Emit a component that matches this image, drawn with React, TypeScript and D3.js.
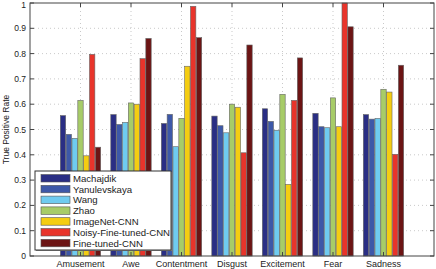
import React from 'react';
import {scaleBand,scaleLinear,range} from 'd3';

const categories=["Amusement","Awe","Contentment","Disgust","Excitement","Fear","Sadness"];
const methods=["Machajdik","Yanulevskaya","Wang","Zhao","ImageNet-CNN","Noisy-Fine-tuned-CNN","Fine-tuned-CNN"];
const colors=["#2a2e84","#3d58a8","#6fcbf0","#a7cc68","#f4cd12","#e8342b","#6c1414"];

// values per method, in category order
const machajdik=[0.555,0.559,0.524,0.553,0.582,0.564,0.559];
const yanulevskaya=[0.481,0.52,0.56,0.515,0.532,0.511,0.541];
const wang=[0.465,0.528,0.432,0.487,0.497,0.507,0.544];
const zhao=[0.615,0.605,0.544,0.6,0.639,0.625,0.659];
const imagenet=[0.396,0.6,0.75,0.588,0.283,0.511,0.648];
const noisy=[0.797,0.78,0.987,0.408,0.615,1.0,0.402];
const finetuned=[0.43,0.86,0.863,0.834,0.783,0.906,0.754];
const series=[machajdik,yanulevskaya,wang,zhao,imagenet,noisy,finetuned];

const yTicks=range(0,11).map(d=>d/10);

const W=436,H=269;
const left=30,right=434,top=3,bottom=256;
const font="'Liberation Sans', Arial, sans-serif";

export default function App(){
  // matlab style: groups at 1..n, xlim [0,n+1]
  const x=scaleLinear().domain([0,categories.length+1]).range([left,right]);
  const y=scaleLinear().domain([0,1]).range([bottom,top]);
  const groupW=x(0.8)-x(0);
  const inner=scaleBand<number>().domain(range(methods.length)).range([-groupW/2,groupW/2]).paddingInner(0.08);

  const lx=35,ly=171,lw=136,lh=79,rowH=10.8;

  return (
    <svg width={W} height={H} style={{position:"absolute",left:0,top:0,background:"#fff"}}>
      <rect x={0} y={0} width={W} height={H} fill="#fff"/>
      <rect x={left} y={top} width={right-left} height={bottom-top} fill="#fff"/>
      {/* grid */}
      {yTicks.slice(1,-1).map(t=>(
        <line key={"gy"+t} x1={left} x2={right} y1={y(t)} y2={y(t)} stroke="#bbb" strokeWidth={0.8} strokeDasharray="1,3"/>
      ))}
      {categories.map((c,i)=>(
        <line key={"gx"+c} x1={x(i+1)} x2={x(i+1)} y1={top} y2={bottom} stroke="#bbb" strokeWidth={0.8} strokeDasharray="1,3"/>
      ))}
      {/* bars */}
      {categories.map((c,i)=>(
        <g key={c}>
          {series.map((s,j)=>{
            const v=Math.min(s[i],1);
            return <rect key={j} x={x(i+1)+inner(j)!} width={inner.bandwidth()} y={y(v)} height={y(0)-y(v)}
              fill={colors[j]} stroke="#666" strokeWidth={0.6}/>;
          })}
        </g>
      ))}
      {/* box */}
      <rect x={left} y={top} width={right-left} height={bottom-top} fill="none" stroke="#444" strokeWidth={1}/>
      {yTicks.map(t=>(
        <g key={"ty"+t}>
          <line x1={left} x2={left+4} y1={y(t)} y2={y(t)} stroke="#444"/>
          <line x1={right} x2={right-4} y1={y(t)} y2={y(t)} stroke="#444"/>
          <text x={left-4} y={Math.max(y(t)+3,8)} textAnchor="end" fontSize={8.5} fontFamily={font} fill="#222">{t===0?"0":t===1?"1":t.toFixed(1)}</text>
        </g>
      ))}
      {categories.map((c,i)=>(
        <g key={"tx"+c}>
          <line x1={x(i+1)} x2={x(i+1)} y1={bottom} y2={bottom-4} stroke="#444"/>
          <line x1={x(i+1)} x2={x(i+1)} y1={top} y2={top+4} stroke="#444"/>
          <text x={x(i+1)} y={bottom+10.5} textAnchor="middle" fontSize={9} fontFamily={font} fill="#222">{c}</text>
        </g>
      ))}
      <text transform={`translate(9,${(top+bottom)/2}) rotate(-90)`} textAnchor="middle" fontSize={8.5} fontFamily={font} fill="#222">True Positive Rate</text>
      {/* legend */}
      <rect x={lx+1} y={ly+1} width={lw} height={lh} fill="#888"/>
      <rect x={lx} y={ly} width={lw} height={lh} fill="#fff" stroke="#333" strokeWidth={1}/>
      {methods.map((m,j)=>(
        <g key={m}>
          <rect x={lx+6} y={ly+3.5+j*rowH} width={29} height={7.5} fill={colors[j]} stroke="#555" strokeWidth={0.6}/>
          <text x={lx+38} y={ly+10.8+j*rowH} fontSize={9.6} fontFamily={font} fill="#222">{m}</text>
        </g>
      ))}
    </svg>
  );
}
